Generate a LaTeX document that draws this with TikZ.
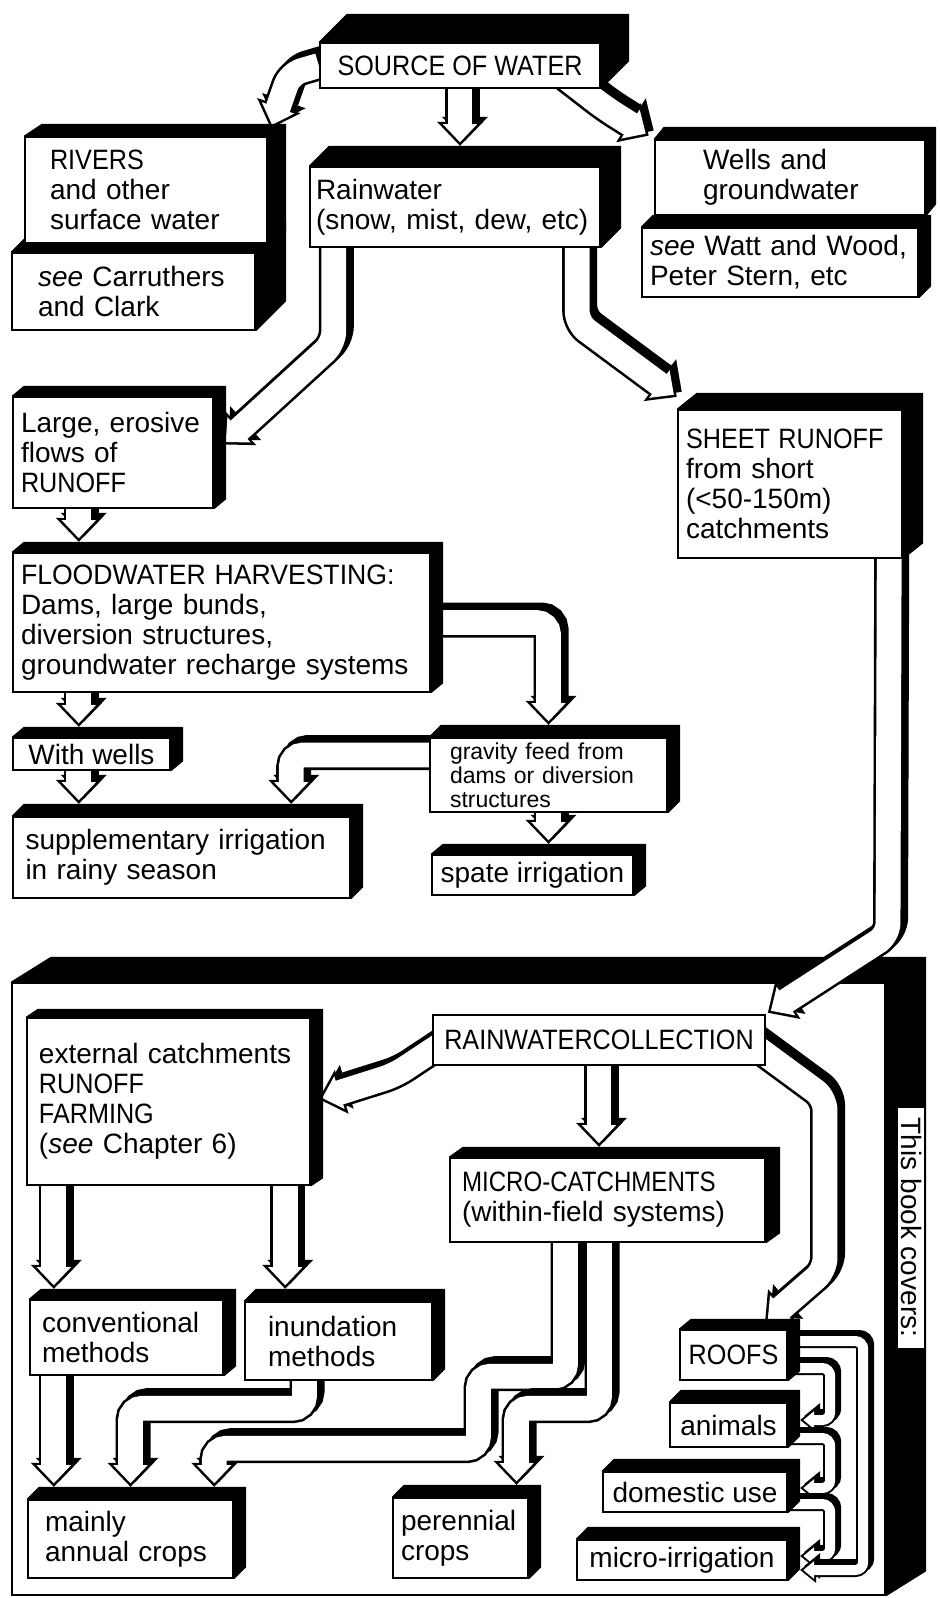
\documentclass[tikz,border=0pt]{standalone}
\usepackage{fontspec}
\setmainfont{Liberation Sans}
\usepackage{graphicx}
\usetikzlibrary{arrows.meta}
\pgfdeclarelayer{back}
\pgfdeclarelayer{mid}
\pgfsetlayers{back,mid,main}

\tikzset{
  box/.style={draw, fill=white, line width=1.2pt, inner xsep=4pt, inner ysep=1pt, align=left, font=\fontsize{14}{15}\selectfont},
  flowout/.style={draw=black, line width=15pt, rounded corners=6pt, -{Triangle[length=12pt,width=23pt,line width=0pt]}},
  flowin/.style={draw=white, line width=12.4pt, rounded corners=6pt, -{Triangle[length=9pt,width=17pt,line width=0.8pt]}},
  thinout/.style={draw=black, line width=7pt, rounded corners=4pt, -{Triangle[length=8pt,width=13pt,line width=0pt]}},
  thinin/.style={draw=white, line width=5pt, rounded corners=4pt, -{Triangle[length=5.4pt,width=8.8pt,line width=0.6pt]}},
}
\newcommand\flow[2][0pt]{%
  \draw[flowout, shorten >=#1, transform canvas={shift={(2.5pt,2.5pt)}}] #2;
  \draw[flowout, shorten >=#1] #2;
  \draw[flowin, shorten >=#1+1.8pt] #2;}
\newcommand\thinflow[2][0pt]{%
  \draw[thinout, shorten >=#1, transform canvas={shift={(2pt,2pt)}}] #2;
  \draw[thinout, shorten >=#1] #2;
  \draw[thinin, shorten >=#1+1.6pt] #2;}
\newcommand\slab[3]{\fill (#1.south east) -- ++(#2,#3) -- ([shift={(#2,#3)}]#1.north east) -- ([shift={(#2,#3)}]#1.north west) -- (#1.north west) -- (#1.north east) -- cycle;}
\newcommand\narrow[2][.9]{\scalebox{#1}[1]{#2}}

\begin{document}
\begin{tikzpicture}[x=0.5pt,y=-0.5pt]
	\begin{pgfonlayer}{back}
	\fill[white] (0,0) rectangle (940,1598);
	%frame of the book
	\node[box, minimum width=436.5pt, minimum height=306pt] (book) at (448.5,1289) {};
	\slab{book}{20pt}{12.5pt}
	\node[fill=white, rotate=-90, minimum width=120pt, minimum height=13pt, inner sep=0pt, font=\fontsize{14}{15}\selectfont] (cover) at (911,1227.5) {This book covers:};
	\end{pgfonlayer}
	\useasboundingbox (0,0) rectangle (940,1598);

	%sources
	\node[box, minimum width=140pt, minimum height=22.5pt, align=center] (src) at (460,65.5) {\narrow{SOURCE OF WATER}};
	\slab{src}{14pt}{14pt}
	\node[box, minimum width=121.5pt, minimum height=38.5pt, text width=95.5pt, inner xsep=13pt] (see1) at (133.5,291.5) {\textit{see} Carruthers\\and Clark};
	\slab{see1}{15pt}{15pt}
	\node[box, minimum width=121pt, minimum height=53pt, text width=96pt, inner xsep=12.5pt] (rivers) at (146,190) {\narrow{RIVERS}\\and other\\surface water};
	\slab{rivers}{9pt}{6pt}
	\node[box, minimum width=145pt, minimum height=40pt, text width=139pt, inner xsep=3pt] (rain) at (455,207) {Rainwater\\(snow, mist, dew, etc)};
	\slab{rain}{10pt}{10pt}
	\node[box, minimum width=138pt, minimum height=34.5pt, text width=130pt, inner xsep=4pt] (see2) at (780,262.5) {\textit{see} Watt and Wood,\\Peter Stern, etc};
	\slab{see2}{6pt}{6pt}
	\node[box, minimum width=135pt, minimum height=37.5pt, text width=87pt, inner xsep=24pt] (wells) at (790,177.5) {Wells and\\groundwater};
	\slab{wells}{5pt}{6pt}

	%floodwater side
	\node[box, minimum width=100pt, minimum height=55.5pt, text width=92pt, inner xsep=4pt] (large) at (113,452.5) {Large, erosive\\flows of\\\narrow{RUNOFF}};
	\slab{large}{6pt}{5pt}
	\node[box, minimum width=208.5pt, minimum height=69.5pt, text width=200.5pt, inner xsep=4pt] (flood) at (221.5,622.5) {\narrow[.95]{FLOODWATER HARVESTING:}\\Dams, large bunds,\\diversion structures,\\groundwater recharge systems};
	\slab{flood}{6pt}{5pt}
	\node[box, minimum width=78.5pt, minimum height=16pt, inner xsep=3pt] (wells2) at (91.5,754) {With wells};
	\slab{wells2}{6pt}{5pt}
	\node[box, minimum width=168.5pt, minimum height=40.5pt, text width=156pt, inner xsep=6.25pt] (supp) at (181.5,857.5) {supplementary irrigation\\in rainy season};
	\slab{supp}{6pt}{6pt}
	\node[box, minimum width=118.5pt, minimum height=37pt, text width=98.5pt, inner xsep=10pt, font=\fontsize{11.5}{12}\selectfont] (grav) at (548.5,775) {gravity feed from\\dams or diversion\\structures};
	\slab{grav}{6pt}{6pt}
	\node[box, minimum width=100.5pt, minimum height=20pt] (spate) at (532.5,875) {spate irrigation};
	\slab{spate}{6pt}{5pt}
	\node[box, minimum width=112pt, minimum height=74pt, text width=104pt, inner xsep=4pt] (sheet) at (790,484) {\narrow{SHEET RUNOFF}\\from short\\(<50-150m)\\catchments};
	\slab{sheet}{10pt}{8pt}

	%inside the book
	\node[box, minimum width=166pt, minimum height=25pt, align=center] (rwc) at (599,1040) {\narrow{RAINWATERCOLLECTION}};
	\node[box, minimum width=141.5pt, minimum height=83.5pt, text width=129.5pt, inner xsep=6pt] (ext) at (168.5,1101.5) {external catchments\\\narrow{RUNOFF}\\\narrow{FARMING}\\(\textit{see} Chapter 6)};
	\slab{ext}{6pt}{4pt}
	\node[box, minimum width=157.5pt, minimum height=42pt, text width=145.5pt, inner xsep=6pt] (micro) at (607.5,1200) {\narrow[.86]{MICRO-CATCHMENTS}\\(within-field systems)};
	\slab{micro}{7pt}{5pt}
	\node[box, minimum width=96.5pt, minimum height=37.5pt, text width=84.5pt, inner xsep=6pt] (conv) at (126.5,1337.5) {conventional\\methods};
	\slab{conv}{6pt}{5pt}
	\node[box, minimum width=93.5pt, minimum height=39pt, text width=70.5pt, inner xsep=11.5pt] (inund) at (338.5,1341) {inundation\\methods};
	\slab{inund}{6pt}{6pt}
	\node[box, minimum width=102.5pt, minimum height=39pt, text width=85.5pt, inner xsep=8.5pt] (annual) at (130.5,1539) {mainly\\annual crops};
	\slab{annual}{6pt}{6pt}
	\node[box, minimum width=67.5pt, minimum height=40pt, text width=59.5pt, inner xsep=4pt] (peren) at (460.5,1538) {perennial\\crops};
	\slab{peren}{6pt}{6pt}
	\node[box, minimum width=53.5pt, minimum height=25pt] (roofs) at (733.5,1355) {\narrow{ROOFS}};
	\slab{roofs}{6pt}{5pt}
	\node[box, minimum width=58.5pt, minimum height=22pt] (animals) at (728.5,1425) {animals};
	\slab{animals}{6pt}{6pt}
	\node[box, minimum width=92pt, minimum height=20pt] (domestic) at (695,1492) {domestic use};
	\slab{domestic}{6pt}{6pt}
	\node[box, minimum width=105pt, minimum height=20pt] (microirr) at (682,1560) {micro-irrigation};
	\slab{microirr}{6pt}{6pt}

	\begin{pgfonlayer}{mid}
	%arrows from the source
	\flow[4pt]{(src.west) -- (290,74) -- (rivers.north east)}
	\flow[10pt]{(src.south) -- (src.south |- rain.north)}
	\flow[3pt]{([xshift=-18pt,yshift=6pt]src.south east) -- (605,108) -- (wells.north west)}
	\flow[6pt]{([xshift=12.5pt]rain.south west) -- ++(0,95) -- (large.east)}
	\flow[10pt]{([xshift=-12pt]rain.south east) -- ++(0,75) -- ([xshift=8pt]sheet.north west)}
	%floodwater
	\flow[5pt]{([xshift=33.5pt]large.south west) -- ([xshift=33.5pt]flood.north west)}
	\flow[5pt]{([xshift=33.5pt]flood.south west) -- ([xshift=33.5pt]wells2.north west)}
	\flow[6pt]{([xshift=33.5pt]wells2.south west) -- ([xshift=33.5pt]supp.north west)}
	\flow[6pt]{(flood.east) -| (grav.north)}
	\flow[6pt]{([yshift=10pt]grav.west) -| ([xshift=-30pt]supp.north east)}
	\flow[5pt]{(grav.south) -- (grav.south |- spate.north)}
	%rainwater collection
	\flow[1pt]{([xshift=-7pt]sheet.south east) -- (888,935) -- (rwc.north east)}
	\flow[4pt]{([xshift=8pt]rwc.west) -- (395,1075) -- (ext.east)}
	\flow[5pt]{(rwc.south) -- (rwc.south |- micro.north)}
	\flow[5pt]{([xshift=-10pt]rwc.east) -- (825,1098) -- (825,1270) -- ([xshift=12pt]roofs.north)}
	\coordinate (p1) at ([xshift=14pt]ext.south west);
	\coordinate (q1) at ([xshift=-13pt]ext.south east);
	\coordinate (r1) at ([xshift=12.5pt]conv.south west);
	\flow[5pt]{(p1) -- (p1 |- conv.north)}
	\flow[6pt]{(q1) -- (q1 |- inund.north)}
	\flow[6pt]{(r1) -- (r1 |- annual.north)}
	\flow[6pt]{([xshift=-17pt]inund.south) -- ++(0,27) -| (annual.north)}
	\flow[6pt]{([xshift=-21pt]micro.south) -- ++(0,133) -- ++(-87,0) -- ++(0,72) -| ([xshift=-10pt]annual.north east)}
	\flow[6pt]{([xshift=-4pt]micro.south) -- ++(0,165) -| ([xshift=28pt]peren.north)}
	%roofs
	\thinflow[6pt]{([yshift=-6.5pt]roofs.east) -- ++(42,0) |- ([yshift=2.5pt]animals.east)}
	\thinflow[6pt]{([yshift=-6.5pt]animals.east) -- ++(42,0) |- ([yshift=2pt]domestic.east)}
	\thinflow[6pt]{([yshift=-6pt]domestic.east) -- ++(42,0) |- ([yshift=2pt]microirr.east)}
	\thinflow[6pt]{([yshift=7pt]roofs.east) -- ++(75,0) |- ([yshift=-5pt]microirr.east)}
	\end{pgfonlayer}
\end{tikzpicture}
\end{document}
